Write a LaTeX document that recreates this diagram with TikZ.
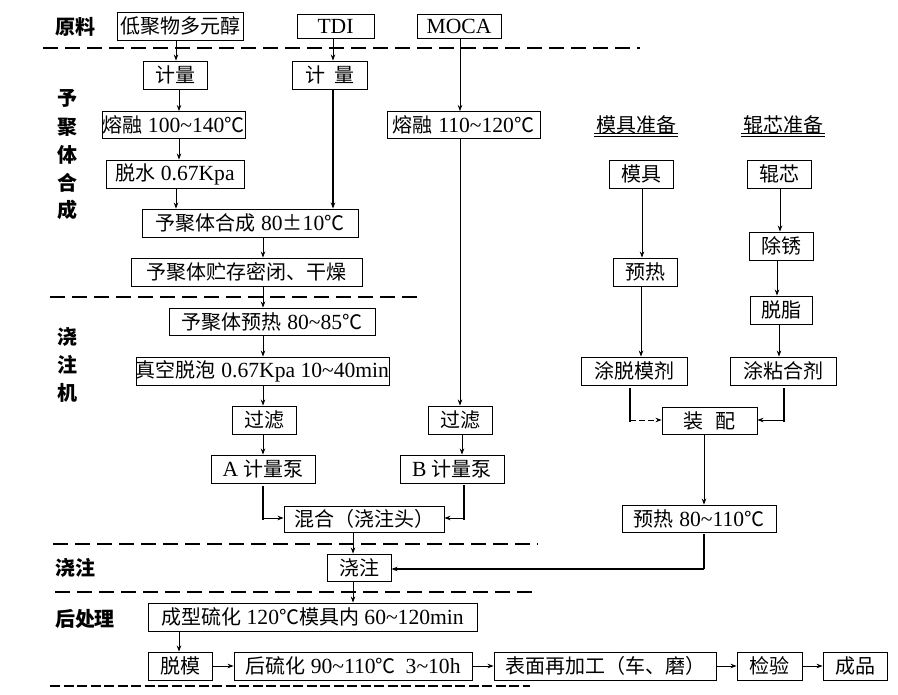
\documentclass[tikz,border=0pt]{standalone}
\usepackage{fontspec}
\setmainfont{Liberation Serif}[Scale=1.08]
\newfontfamily\cjk{Noto Sans CJK SC}
\usetikzlibrary{arrows.meta}
\newcommand{\zh}[1]{{\cjk #1}}
\newcommand{\tl}{\textasciitilde}
\begin{document}
\begin{tikzpicture}[x=1pt,y=-1pt,
  box/.style={draw, line width=0.9pt, inner sep=0pt, minimum height=28pt, font=\fontsize{20}{24}\selectfont},
  lbl/.style={inner sep=0pt, font=\cjk\bfseries\fontsize{20}{24}\selectfont},
  plain/.style={inner sep=0pt, font=\fontsize{20}{24}\selectfont},
  arr/.style={-{Stealth[length=6pt,width=4.5pt]}, line width=0.7pt},
  arrt/.style={-{Stealth[length=6pt,width=4.5pt]}, line width=1.4pt},
  thk/.style={line width=1.6pt},
  sep/.style={line width=2.5pt, dash pattern=on 15pt off 7pt},
  sepb/.style={line width=2pt, dash pattern=on 10pt off 3.5pt}]
\useasboundingbox (0,0) rectangle (898,695);

% section labels
\node[lbl] (lyl) at (75,27) {原料};
\node[lbl] (v1) at (67,98) {予};
\node[lbl] (v2) at (67,127) {聚};
\node[lbl] (v3) at (67,155) {体};
\node[lbl] (v4) at (67,183) {合};
\node[lbl] (v5) at (67,210) {成};
\node[lbl] (w1) at (67,337) {浇};
\node[lbl] (w2) at (67,365) {注};
\node[lbl] (w3) at (67,393) {机};
\node[lbl] (ljz) at (75,568) {浇注};
\node[lbl] (lhc) at (85,619) {后处理};

% separators
\draw[sep] (43,48) -- (640,48);
\draw[sep] (50,297) -- (418,297);
\draw[sep] (53,544) -- (538,544);
\draw[sep] (55,592) -- (533,592);
\draw[sepb] (50,686) -- (530,686);

% raw materials
\node[box, minimum width=126pt] (n1) at (180,26) {\zh{低聚物多元醇}};
\node[box, minimum width=77pt, minimum height=24pt] (tdi) at (335.5,26) {TDI};
\node[box, minimum width=84pt, minimum height=24pt] (moca) at (459,26) {MOCA};

% prepolymer synthesis
\node[box, minimum width=64pt] (jl1) at (175,75) {\zh{计量}};
\node[box, minimum width=75pt] (jl2) at (329.5,75) {\zh{计}\hspace{9pt}\zh{量}};
\node[box, minimum width=143pt, minimum height=27pt] (rr1) at (173.5,125) {\zh{熔融} 100\tl140\zh{℃}};
\node[box, minimum width=153pt, minimum height=27pt] (rr2) at (463.5,125) {\zh{熔融} 110\tl120\zh{℃}};
\node[box, minimum width=138pt] (ts) at (175,174) {\zh{脱水} 0.67Kpa};
\node[box, minimum width=216pt] (hc) at (250,223) {\zh{予聚体合成} 80\zh{±}10\zh{℃}};
\node[box, minimum width=231pt] (zc) at (246.5,272) {\zh{予聚体贮存密闭、干燥}};

% casting machine
\node[box, minimum width=206pt, minimum height=27pt] (yr) at (272,321.5) {\zh{予聚体预热} 80\tl85\zh{℃}};
\node[box, minimum width=253pt] (zk) at (262.5,371) {\zh{真空脱泡} 0.67Kpa 10\tl40min};
\node[box, minimum width=64pt] (gl1) at (264,420) {\zh{过滤}};
\node[box, minimum width=64pt] (gl2) at (460,420) {\zh{过滤}};
\node[box, minimum width=104pt] (pa) at (263,469) {A \zh{计量泵}};
\node[box, minimum width=104pt] (pb) at (452,469) {B \zh{计量泵}};
\node[box, minimum width=160pt, minimum height=26pt] (mix) at (364,519) {\zh{混合（浇注头）}};

% casting
\node[box, minimum width=64pt, minimum height=27pt] (jz) at (359,567.5) {\zh{浇注}};

% post treatment
\node[box, minimum width=329pt] (cx) at (312.5,617) {\zh{成型硫化} 120\zh{℃模具内} 60\tl120min};
\node[box, minimum width=64pt] (tm) at (180,666) {\zh{脱模}};
\node[box, minimum width=238pt] (hl) at (353,666) {\zh{后硫化} 90\tl110\zh{℃}\hspace{10pt}3\tl10h};
\node[box, minimum width=222pt] (bm) at (605,666) {\zh{表面再加工（车、磨）}};
\node[box, minimum width=65pt] (jy) at (769.5,666) {\zh{检验}};
\node[box, minimum width=64pt] (cp) at (855,666) {\zh{成品}};

% mould / roller preparation
\node[plain] (mzb) at (636,125) {\zh{模具准备}};
\node[plain] (gzb) at (783,125) {\zh{辊芯准备}};
\draw[line width=0.8pt] (594,133) -- (678,133) (594,136) -- (678,136);
\draw[line width=0.8pt] (741,133) -- (825,133) (741,136) -- (825,136);
\node[box, minimum width=64pt] (mj) at (641,174) {\zh{模具}};
\node[box, minimum width=64pt] (gx) at (779,174) {\zh{辊芯}};
\node[box, minimum width=64pt] (cx2) at (781,246) {\zh{除锈}};
\node[box, minimum width=64pt] (yr2) at (645,272) {\zh{预热}};
\node[box, minimum width=62pt] (tz) at (781,310) {\zh{脱脂}};
\node[box, minimum width=106pt] (tt) at (634,371) {\zh{涂脱模剂}};
\node[box, minimum width=106pt] (tn) at (783,371) {\zh{涂粘合剂}};
\node[box, minimum width=95pt, minimum height=27pt] (zp) at (709.5,420.5) {\zh{装}\hspace{12pt}\zh{配}};
\node[box, minimum width=154pt, minimum height=27pt] (yr3) at (699,518.5) {\zh{预热} 80\tl110\zh{℃}};

% connectors: left column
\draw[arr] (176,0 |- n1.south) -- (176,0 |- jl1.north);
\draw[arr] (333,0 |- tdi.south) -- (333,0 |- jl2.north);
\draw[arr] (460,0 |- moca.south) -- (460,0 |- rr2.north);
\draw[arr] (179,0 |- jl1.south) -- (179,0 |- rr1.north);
\draw[arr] (179,0 |- rr1.south) -- (179,0 |- ts.north);
\draw[arr] (176,0 |- ts.south) -- (176,0 |- hc.north);
\draw[arrt] (333,0 |- jl2.south) -- (333,0 |- hc.north);
\draw[arr] (263,0 |- hc.south) -- (263,0 |- zc.north);
\draw[arr] (263,0 |- zc.south) -- (263,0 |- yr.north);
\draw[arr] (263,0 |- yr.south) -- (263,0 |- zk.north);
\draw[arr] (263,0 |- zk.south) -- (263,0 |- gl1.north);
\draw[arr] (263,0 |- gl1.south) -- (263,0 |- pa.north);
\draw[arr] (460,0 |- rr2.south) -- (460,0 |- gl2.north);
\draw[arr] (462,0 |- gl2.south) -- (462,0 |- pb.north);

\coordinate (pa1) at (263,520);
\coordinate (pa2) at (263,518);
\draw[thk] ([yshift=-3pt]pa.south) -- (pa1);
\draw[arr] (pa2) -- (pa2 -| mix.west);
\coordinate (pb1) at (464,520);
\coordinate (pb2) at (464,518);
\draw[thk] ([yshift=-2pt]pb.south -| pb1) -- (pb1);
\draw[arr] (pb2) -- (pb2 -| mix.east);

\draw[arr] (353,0 |- mix.south) -- (353,0 |- jz.north);
\draw[arr] (353,0 |- jz.south) -- (353,0 |- cx.north);
\coordinate (yb) at (704,569);
\draw[thk] ([yshift=-2pt]yr3.south -| yb) -- (yb);
\draw[arrt] (yb) -- (yb -| jz.east);

\draw[arr] (179,0 |- cx.south) -- (179,0 |- tm.north);
\draw[arr] (tm.east) -- (hl.west);
\draw[arr] (hl.east) -- (bm.west);
\draw[arr] (bm.east) -- (jy.west);
\draw[arr] (jy.east) -- (cp.west);

% connectors: right side
\draw[arr] (642,0 |- mj.south) -- (642,0 |- yr2.north);
\draw[arr] (641,0 |- yr2.south) -- (641,0 |- tt.north);
\draw[arr] (780,0 |- gx.south) -- (780,0 |- cx2.north);
\draw[arr] (777,0 |- cx2.south) -- (777,0 |- tz.north);
\draw[arr] (779,0 |- tz.south) -- (779,0 |- tn.north);

\coordinate (tt1) at (630,422);
\coordinate (tt2) at (630,420);
\draw[thk] ([yshift=-3pt]tt.south -| tt1) -- (tt1);
\draw[arr, dash pattern=on 6pt off 3pt] (tt2) -- (tt2 -| zp.west);
\coordinate (tn1) at (784,422);
\coordinate (tn2) at (784,420);
\draw[thk] ([yshift=-3pt]tn.south -| tn1) -- (tn1);
\draw[arr] (tn2) -- (tn2 -| zp.east);

\draw[arr] (704,0 |- zp.south) -- (704,0 |- yr3.north);
\end{tikzpicture}
\end{document}
